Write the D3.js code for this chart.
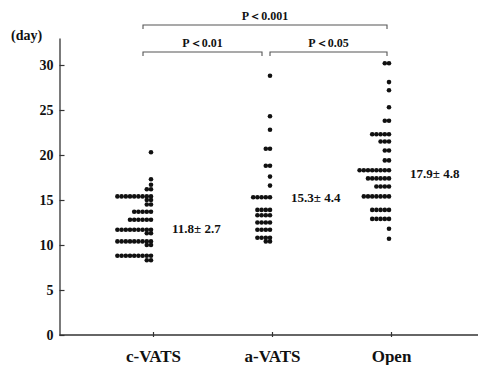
<!DOCTYPE html>
<html>
<head>
<meta charset="utf-8">
<script src="https://cdn.jsdelivr.net/npm/d3@7"></script>
<style>
  html, body { margin: 0; padding: 0; background: #fff; }
  svg { display: block; }
  text { font-family: "Liberation Serif", "Times New Roman", serif; font-weight: bold; fill: #111; }
</style>
</head>
<body>
<svg id="chart" width="478" height="365"></svg>
<script>
// ---------- data ----------
const categories = ["c-VATS", "a-VATS", "Open"];

const cVATS = [
  20.3, 17.3, 16.7, 16.2, 16.2,
  15.4, 15.4, 15.4, 15.4, 15.4, 15.4, 15.4, 15.4, 15.4,
  15.0, 15.0, 14.5, 14.5,
  13.7, 13.7, 13.7, 13.7, 13.7,
  12.8, 12.8, 12.8, 12.8, 12.8, 12.8,
  11.7, 11.7, 11.7, 11.7, 11.7, 11.7, 11.7, 11.7, 11.7,
  11.3, 11.3,
  10.4, 10.4, 10.4, 10.4, 10.4, 10.4, 10.4, 10.4, 10.4,
  10.0, 10.0,
  8.8, 8.8, 8.8, 8.8, 8.8, 8.8, 8.8, 8.8, 8.8,
  8.3, 8.3
];
const aVATS = [
  28.8, 24.3, 22.8, 20.7, 20.7, 18.8, 18.8, 17.6, 16.6,
  15.3, 15.3, 15.3, 15.3, 15.3,
  13.9, 13.9, 13.9, 13.9,
  13.3, 13.3, 13.3, 13.3,
  12.5, 12.5, 12.5, 12.5,
  11.7, 11.7, 11.7, 11.7,
  10.8, 10.8, 10.8, 10.8,
  10.4, 10.4
];
const openSurg = [
  30.2, 30.2, 28.1, 27.2, 25.3, 23.8, 23.8,
  22.3, 22.3, 22.3, 22.3, 22.3,
  21.5, 21.5, 21.5,
  20.5, 20.5, 19.4, 19.4,
  18.3, 18.3, 18.3, 18.3, 18.3, 18.3, 18.3, 18.3,
  17.4, 17.4, 17.4, 17.4, 17.4, 17.4,
  16.5, 16.5, 16.5, 16.5,
  15.4, 15.4, 15.4, 15.4, 15.4, 15.4, 15.4,
  13.9, 13.9, 13.9, 13.9, 13.9,
  12.9, 12.9, 12.9, 12.9, 12.9,
  11.8, 10.7
];
const seriesValues = [cVATS, aVATS, openSurg];

const means = [11.8, 15.3, 17.9];
const meanLabels = ["11.8\u00b1 2.7", "15.3\u00b1 4.4", "17.9\u00b1 4.8"];

const yTicks = [0, 5, 10, 15, 20, 25, 30];
const yUnitLabel = "(day)";

const comparisons = [
  { from: "c-VATS", to: "Open",   label: "P\uff1c0.001", level: 2 },
  { from: "c-VATS", to: "a-VATS", label: "P\uff1c0.01",  level: 1 },
  { from: "a-VATS", to: "Open",   label: "P\uff1c0.05",  level: 1 }
];

// ---------- layout ----------
const svg = d3.select("#chart");
const axisX = 59.5, axisY = 335;

const y = d3.scaleLinear().domain([0, 33]).range([axisY, 38]);
const x = d3.scalePoint().domain(categories).range([153, 391]);

const dotR = 2.3, dotStep = 4.2, dotRightOffset = 2;

// y axis
const yAxis = d3.axisLeft(y).tickValues(yTicks).tickSize(-5).tickPadding(6).tickSizeOuter(0);
const gy = svg.append("g").attr("transform", `translate(${axisX},0)`).call(yAxis);
gy.select(".domain").attr("stroke", "#333").attr("stroke-width", 1.3);
gy.selectAll(".tick line").attr("stroke", "#333").attr("stroke-width", 1.2);
gy.selectAll(".tick text").style("font-size", "14px").style("font-family", "'Liberation Serif', serif")
  .style("font-weight", "bold").attr("fill", "#111");

// x axis
const xAxis = d3.axisBottom(x).tickSize(-4).tickPadding(15).tickSizeOuter(0);
const gx = svg.append("g").attr("transform", `translate(0,${axisY})`).call(xAxis);
gx.select(".domain").attr("d", `M${axisX},0H478`).attr("stroke", "#333").attr("stroke-width", 1.3);
gx.selectAll(".tick line").attr("stroke", "#333").attr("stroke-width", 1.2).attr("y2", -3).attr("y1", 2);
gx.selectAll(".tick text").style("font-size", "17px").style("font-family", "'Liberation Serif', serif")
  .style("font-weight", "bold").attr("fill", "#111").attr("dy", "0.71em");

// unit label
svg.append("text").attr("x", 11).attr("y", 40).style("font-size", "14px").text(yUnitLabel);

// dots: identical values stacked horizontally, right-aligned at the category
seriesValues.forEach((vals, gi) => {
  const cat = categories[gi];
  const rows = d3.groups(vals, v => v);
  const pts = [];
  rows.forEach(([v, arr]) => {
    arr.forEach((_, i) => pts.push({ v, i }));
  });
  svg.append("g").selectAll("circle").data(pts).join("circle")
    .attr("cx", d => x(cat) - dotRightOffset - d.i * dotStep)
    .attr("cy", d => y(d.v))
    .attr("r", dotR)
    .attr("fill", "#111");
});

// mean ± SD labels
svg.append("g").selectAll("text").data(categories).join("text")
  .attr("x", c => x(c) + 19)
  .attr("y", (c, i) => y(means[i]))
  .attr("dy", "0.35em")
  .style("font-size", "13px")
  .text((c, i) => meanLabels[i]);

// significance brackets
const levelY = { 1: 52, 2: 25 };
const idx = c => categories.indexOf(c);
comparisons.forEach(cmp => {
  const left = x(cmp.from) - (idx(cmp.from) === 0 ? 10 : 2);
  const right = x(cmp.to) - (idx(cmp.to) === categories.length - 1 ? 4 : 10);
  const yy = levelY[cmp.level];
  svg.append("path")
    .attr("d", `M${left},${yy + 4}V${yy}H${right}V${yy + 4}`)
    .attr("fill", "none").attr("stroke", "#555").attr("stroke-width", 1.1);
  svg.append("text")
    .attr("x", (left + right) / 2)
    .attr("y", yy - 5)
    .attr("text-anchor", "middle")
    .style("font-size", "12px")
    .text(cmp.label);
});
</script>
</body>
</html>
